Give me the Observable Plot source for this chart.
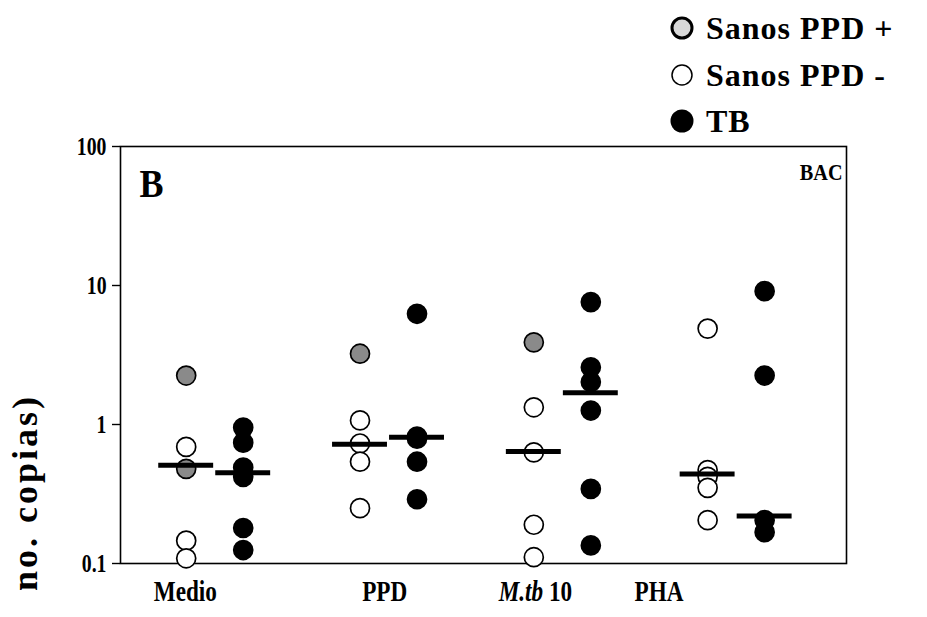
<!DOCTYPE html>
<html><head><meta charset="utf-8">
<script src="https://cdn.jsdelivr.net/npm/d3@7"></script>
<script src="https://cdn.jsdelivr.net/npm/@observablehq/plot@0.6"></script>
<style>
html,body{margin:0;padding:0;background:#fff}
#chart svg{display:block}
</style>
</head><body><div id="chart"></div>
<script>
// ---------- data ----------
const categories = ["Medio", "PPD", "M.tb 10", "PHA"];
const seriesNames = ["Sanos PPD +", "Sanos PPD -", "TB"];
const sanosPPDpos = [[2.25, 0.48], [3.23], [3.9], []];
const sanosPPDneg = [[0.69, 0.146, 0.109], [1.07, 0.73, 0.54, 0.25], [1.33, 0.63, 0.19, 0.111], [4.9, 0.47, 0.42, 0.35, 0.205]];
const tb = [[0.95, 0.74, 0.49, 0.42, 0.18, 0.125], [6.26, 0.82, 0.79, 0.54, 0.29], [7.6, 2.58, 2.02, 1.26, 0.344, 0.135], [9.1, 2.25, 0.205, 0.168]];
const medianSanos = [0.51, 0.72, 0.64, 0.44];
const medianTB = [0.45, 0.81, 1.69, 0.22];
const yTicks = [0.1, 1, 10, 100];
const yTickLabels = ["0.1", "1", "10", "100"];
const panelLetter = "B";
const panelTag = "BAC";
const yLabel = "no. copias)";

// ---------- build rows ----------
const OFF = 0.164;
const rows = [];
categories.forEach((c, i) => {
  sanosPPDpos[i].forEach(v => rows.push({cat: i, pos: i - OFF, series: seriesNames[0], value: v}));
  sanosPPDneg[i].forEach(v => rows.push({cat: i, pos: i - OFF, series: seriesNames[1], value: v}));
  tb[i].forEach(v => rows.push({cat: i, pos: i + OFF, series: seriesNames[2], value: v}));
});
const medians = [];
categories.forEach((c, i) => {
  medians.push({pos: i - OFF, value: medianSanos[i]});
  medians.push({pos: i + OFF, value: medianTB[i]});
});
const fills = {"Sanos PPD +": "#8a8a8a", "Sanos PPD -": "#ffffff", "TB": "#000000"};
const labelShift = [-0.169, -0.022, -0.155, -0.444];
const HALF = 0.158;
const FONT = "'Liberation Serif', 'Times New Roman', serif";

const chart = Plot.plot({
  width: 927, height: 617,
  marginLeft: 120, marginRight: 81, marginTop: 146, marginBottom: 54,
  style: {fontFamily: FONT, fontWeight: "bold", fontSize: "25px", color: "#000", background: "#fff", overflow: "visible"},
  x: {domain: [-0.542, 3.635], axis: null},
  y: {type: "log", domain: [0.1, 100], axis: null},
  marks: [
    Plot.frame({stroke: "#000", strokeWidth: 1.6}),
    Plot.axisY({ticks: yTicks, tickFormat: (d) => yTickLabels[yTicks.indexOf(d)], tickSize: 8, tickPadding: 6,
      fontSize: 26, fontWeight: "bold", stroke: "#000", strokeWidth: 1.4, label: null}),
    Plot.dot(rows, {x: "pos", y: "value", r: 9.5, fill: d => fills[d.series], stroke: "#000", strokeWidth: 1.7}),
    Plot.ruleY(medians, {y: "value", x1: d => d.pos - HALF, x2: d => d.pos + HALF, stroke: "#000", strokeWidth: 5}),
    Plot.text(categories, {x: (d, i) => i + labelShift[i], frameAnchor: "bottom", dy: 28, text: d => d,
      fontSize: 29, fontWeight: "bold", lineAnchor: "middle", fill: "#000"}),
    Plot.text([panelLetter], {frameAnchor: "top-left", text: d => d, dx: 19, dy: 50, lineAnchor: "bottom",
      textAnchor: "start", fontSize: 40, fontWeight: "bold", fill: "#000"}),
    Plot.text([panelTag], {frameAnchor: "top-right", text: d => d, dx: -4, dy: 33, lineAnchor: "bottom",
      textAnchor: "end", fontSize: 23, fontWeight: "bold", fill: "#000"})
  ]
});

const svg = d3.select(chart);
// italic "M.tb"
svg.selectAll("text").filter(function() { return this.textContent === "M.tb 10"; })
  .each(function() {
    const t = d3.select(this);
    t.text(null);
    t.append("tspan").attr("font-style", "italic").text("M.tb");
    t.append("tspan").text(" 10");
  });

// narrow, tall lettering like the scanned figure
const squeeze = new Map([...categories.map(c => [c, 0.8]), ...yTickLabels.map(c => [c, 0.76]), [panelTag, 0.88], [panelLetter, 0.9]]);
svg.selectAll("text").each(function() {
  const s = squeeze.get(this.textContent);
  if (!s) return;
  const el = d3.select(this);
  const tr = el.attr("transform");
  if (tr) {
    el.attr("transform", tr + ` scale(${s},1)`);
  } else {
    const x = +(el.attr("x") || 0), y = +(el.attr("y") || 0);
    el.attr("x", null).attr("y", null).attr("transform", `translate(${x},${y}) scale(${s},1)`);
  }
});

// legend
const leg = svg.append("g").attr("font-family", FONT).attr("font-weight", "bold").attr("font-size", 32).attr("text-anchor", "start");
const legendY = [28, 75, 121];
seriesNames.forEach((s, i) => {
  const cy = legendY[i];
  if (i === 0) {
    leg.append("circle").attr("cx", 682).attr("cy", cy).attr("r", 10).attr("fill", "#d8d8d8").attr("stroke", "#000").attr("stroke-width", 3);
  } else if (i === 1) {
    leg.append("circle").attr("cx", 682).attr("cy", cy).attr("r", 10).attr("fill", "#fff").attr("stroke", "#000").attr("stroke-width", 1.5);
  } else {
    leg.append("circle").attr("cx", 682).attr("cy", cy).attr("r", 11.5).attr("fill", "#000");
  }
  leg.append("text").attr("x", 706).attr("y", cy + 11).attr("text-anchor", "start").attr("letter-spacing", "1px").text(s);
});
// y label
svg.append("text").attr("transform", "translate(37,394) rotate(-90)").attr("text-anchor", "end")
  .attr("font-family", FONT).attr("font-weight", "bold").attr("font-size", 36).attr("letter-spacing", "3px").text(yLabel);

document.getElementById("chart").appendChild(chart);
</script>
</body></html>
